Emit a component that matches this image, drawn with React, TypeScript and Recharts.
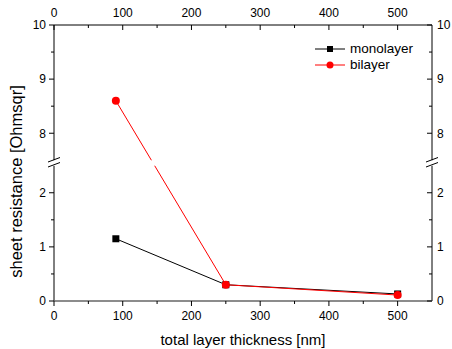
import { LineChart, Line, XAxis, YAxis, ReferenceLine, ReferenceArea, Legend } from "recharts";

// values
const THICKNESS = [90, 250, 500]; // nm
const MONOLAYER = [1.15, 0.3, 0.13];
const BILAYER = [8.6, 0.3, 0.11];

const X_MAJOR = [0, 100, 200, 300, 400, 500];
const X_MINOR = [50, 150, 250, 350, 450];
const Y_MAJOR = [0, 1, 2, 8, 9, 10];
const Y_MINOR = [0.5, 1.5, 8.5, 9.5];

const X_TITLE = "total layer thickness [nm]";
const Y_TITLE = "sheet resistance [Ohmsqr]";

const SERIES = [
  { key: "mono", name: "monolayer", color: "#000000", marker: "square" },
  { key: "bi", name: "bilayer", color: "#ff0000", marker: "circle" },
];

// broken y axis: 0..2.5 below the break, 7.5..10 above it
const BREAK_LO = 2.5;
const BREAK_HI = 7.5;
const GAP = 0.1;
const toAxis = (v: number) => (v <= BREAK_LO ? v : v - (BREAK_HI - BREAK_LO) + GAP);
const fromAxis = (t: number) => (t <= BREAK_LO ? t : t + (BREAK_HI - BREAK_LO) - GAP);
const BREAK_TICK = BREAK_LO + GAP / 2;
const Y_TOP = toAxis(10);
const X_MAX = 550;

const chartData = THICKNESS.map((x, i) => ({ x, mono: toAxis(MONOLAYER[i]), bi: toAxis(BILAYER[i]) }));

const X_TICKS = [...X_MAJOR, ...X_MINOR].sort((a, b) => a - b);
const Y_TICKS = [...Y_MAJOR, ...Y_MINOR].map(toAxis).concat(BREAK_TICK).sort((a, b) => a - b);

const FONT = '"Liberation Sans", Arial, Helvetica, sans-serif';

const isBreak = (v: number) => Math.abs(v - BREAK_TICK) < 1e-6;
const realValue = (v: number) => Math.round(fromAxis(v) * 100) / 100;

const BreakMark = ({ x, y }: any) => (
  <g stroke="#000" strokeWidth={1}>
    <line x1={x - 6} y1={y - 1} x2={x + 6} y2={y - 5.5} />
    <line x1={x - 6} y1={y + 4} x2={x + 6} y2={y - 0.5} />
  </g>
);

// ticks all point left / down, like the original plot
const LeftTick = ({ x, y, payload }: any) => {
  if (isBreak(payload.value)) return <BreakMark x={x} y={y} />;
  const v = realValue(payload.value);
  const major = Y_MAJOR.includes(v);
  return (
    <g>
      <line x1={x} y1={y} x2={x - (major ? 5 : 3)} y2={y} stroke="#000" />
      {major && (
        <text x={x - 8} y={y + 4.3} textAnchor="end" fontSize={12} fontFamily={FONT} fill="#000">{v}</text>
      )}
    </g>
  );
};

const RightTick = ({ x, y, payload }: any) => {
  if (isBreak(payload.value)) return <BreakMark x={x} y={y} />;
  const v = realValue(payload.value);
  const major = Y_MAJOR.includes(v);
  return (
    <g>
      <line x1={x} y1={y} x2={x - (major ? 5 : 3)} y2={y} stroke="#000" />
      {major && (
        <text x={x + 5} y={y + 4.3} textAnchor="start" fontSize={12} fontFamily={FONT} fill="#000">{v}</text>
      )}
    </g>
  );
};

const BottomTick = ({ x, y, payload }: any) => {
  const major = X_MAJOR.includes(payload.value);
  return (
    <g>
      <line x1={x} y1={y} x2={x} y2={y + (major ? 5 : 3)} stroke="#000" />
      {major && (
        <text x={x} y={y + 18.5} textAnchor="middle" fontSize={12} fontFamily={FONT} fill="#000">{payload.value}</text>
      )}
    </g>
  );
};

const TopTick = ({ x, y, payload }: any) => {
  const major = X_MAJOR.includes(payload.value);
  return (
    <g>
      <line x1={x} y1={y} x2={x} y2={y + (major ? 5 : 3)} stroke="#000" />
      {major && (
        <text x={x} y={y - 8.5} textAnchor="middle" fontSize={12} fontFamily={FONT} fill="#000">{payload.value}</text>
      )}
    </g>
  );
};

const SquareDot = ({ cx, cy }: any) => {
  if (cx == null || cy == null) return null;
  return <rect x={cx - 3.5} y={cy - 3.5} width={7} height={7} fill="#000" />;
};

const XTitle = ({ viewBox }: any) => (
  <text x={viewBox.x + viewBox.width / 2} y={viewBox.y + 44} textAnchor="middle" fontSize={15} fontFamily={FONT} fill="#000">
    {X_TITLE}
  </text>
);

const YTitle = ({ viewBox }: any) => {
  const cx = viewBox.x + 21.5;
  const cy = viewBox.y + viewBox.height / 2 + 18.5;
  return (
    <text x={cx} y={cy} transform={`rotate(-90, ${cx}, ${cy})`} textAnchor="middle" fontSize={16.5} fontFamily={FONT} fill="#000">
      {Y_TITLE}
    </text>
  );
};

const LegendBox = () => (
  <div style={{ fontFamily: FONT, fontSize: 13.5, color: "#000", lineHeight: "16px" }}>
    {SERIES.map((s) => (
      <div key={s.key} style={{ display: "flex", alignItems: "center", height: 16 }}>
        <svg width={30} height={16} style={{ display: "block" }}>
          <line x1={0} y1={8} x2={30} y2={8} stroke={s.color} strokeWidth={1} />
          {s.marker === "square"
            ? <rect x={12} y={5} width={6} height={6} fill={s.color} />
            : <circle cx={15} cy={8} r={3.5} fill={s.color} />}
        </svg>
        <span style={{ marginLeft: 5 }}>{s.name}</span>
      </div>
    ))}
  </div>
);

export default function App() {
  return (
    <div style={{ position: "absolute", left: 0, top: 0, width: 452, height: 349, background: "#fff" }}>
      <LineChart width={452} height={349} data={chartData} margin={{ top: 0, right: 0, bottom: 0, left: 0 }}>
        <XAxis
          xAxisId="bottom"
          dataKey="x"
          type="number"
          domain={[0, X_MAX]}
          ticks={X_TICKS}
          interval={0}
          height={48}
          tickSize={0}
          tickMargin={0}
          tickLine={false}
          tick={BottomTick}
          axisLine={{ stroke: "#666", strokeWidth: 1.3 }}
          label={XTitle}
        />
        <XAxis
          xAxisId="top"
          dataKey="x"
          orientation="top"
          type="number"
          domain={[0, X_MAX]}
          ticks={X_TICKS}
          interval={0}
          height={25}
          tickSize={0}
          tickMargin={0}
          tickLine={false}
          tick={TopTick}
          axisLine={{ stroke: "#000", strokeWidth: 1 }}
        />
        <YAxis
          yAxisId="left"
          type="number"
          domain={[0, Y_TOP]}
          ticks={Y_TICKS}
          interval={0}
          width={54}
          tickSize={0}
          tickMargin={0}
          tickLine={false}
          tick={LeftTick}
          axisLine={false}
          label={YTitle}
        />
        <YAxis
          yAxisId="right"
          orientation="right"
          type="number"
          domain={[0, Y_TOP]}
          ticks={Y_TICKS}
          interval={0}
          width={20}
          tickSize={0}
          tickMargin={0}
          tickLine={false}
          tick={RightTick}
          axisLine={false}
        />

        {/* axis segments either side of the break */}
        <ReferenceLine xAxisId="bottom" yAxisId="left" segment={[{ x: 0, y: 0 }, { x: 0, y: toAxis(BREAK_LO) }]} stroke="#000" />
        <ReferenceLine xAxisId="bottom" yAxisId="left" segment={[{ x: 0, y: toAxis(BREAK_HI) }, { x: 0, y: Y_TOP }]} stroke="#000" />
        <ReferenceLine xAxisId="bottom" yAxisId="left" segment={[{ x: X_MAX, y: 0 }, { x: X_MAX, y: toAxis(BREAK_LO) }]} stroke="#000" />
        <ReferenceLine xAxisId="bottom" yAxisId="left" segment={[{ x: X_MAX, y: toAxis(BREAK_HI) }, { x: X_MAX, y: Y_TOP }]} stroke="#000" />

        {/* invisible series so the top and right axes get their scales */}
        <Line
          xAxisId="top"
          yAxisId="right"
          dataKey="mono"
          stroke="none"
          dot={false}
          activeDot={false}
          legendType="none"
          isAnimationActive={false}
        />

        <Line
          xAxisId="bottom"
          yAxisId="left"
          dataKey="mono"
          name="monolayer"
          stroke="#000"
          strokeWidth={1}
          dot={SquareDot}
          activeDot={false}
          isAnimationActive={false}
        />
        <Line
          xAxisId="bottom"
          yAxisId="left"
          dataKey="bi"
          name="bilayer"
          stroke="#ff0000"
          strokeWidth={1}
          dot={{ r: 4, fill: "#ff0000", stroke: "none" }}
          activeDot={false}
          isAnimationActive={false}
        />

        {/* white band that cuts the data lines at the break */}
        <ReferenceArea
          xAxisId="bottom"
          yAxisId="left"
          x1={0.5}
          x2={X_MAX - 0.5}
          y1={toAxis(BREAK_LO)}
          y2={toAxis(BREAK_HI)}
          fill="#fff"
          fillOpacity={1}
          stroke="none"
          zIndex={450}
        />

        <Legend
          layout="vertical"
          align="center"
          verticalAlign="middle"
          content={LegendBox}
          wrapperStyle={{ position: "absolute", left: 315, top: 41, width: "auto", height: "auto" }}
        />
      </LineChart>
    </div>
  );
}
